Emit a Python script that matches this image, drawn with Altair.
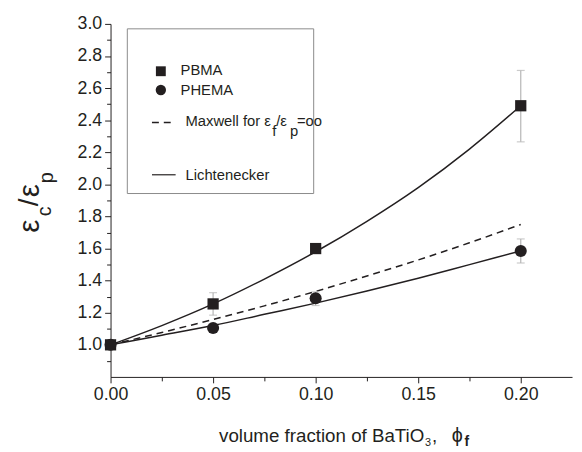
import altair as alt
import pandas as pd

# ---- data ----
phi_pts = [0.0, 0.05, 0.10, 0.20]
pbma = [1.0, 1.255, 1.60, 2.49]
pbma_lo = [1.0, 1.185, 1.58, 2.265]
pbma_hi = [1.0, 1.325, 1.63, 2.71]
phema = [1.0, 1.105, 1.29, 1.585]
phema_lo = [1.0, 1.105, 1.245, 1.51]
phema_hi = [1.0, 1.105, 1.33, 1.66]

phi_curve = [0.0, 0.025, 0.05, 0.075, 0.10, 0.125, 0.15, 0.175, 0.20]
lich_pbma = [1.0, 1.12, 1.255, 1.41, 1.58, 1.77, 1.98, 2.22, 2.49]
lich_phema = [1.0, 1.06, 1.12, 1.19, 1.26, 1.335, 1.415, 1.50, 1.585]
maxwell = [1.0, 1.077, 1.158, 1.243, 1.333, 1.429, 1.529, 1.636, 1.75]

x_ticks = [0.0, 0.025, 0.05, 0.075, 0.10, 0.125, 0.15, 0.175, 0.20]
y_ticks = [0.9, 1.0, 1.1, 1.2, 1.3, 1.4, 1.5, 1.6, 1.7, 1.8, 1.9, 2.0,
           2.1, 2.2, 2.3, 2.4, 2.5, 2.6, 2.7, 2.8, 2.9, 3.0]

INK = "#231f20"
FONT = "Liberation Sans"

pts = pd.DataFrame({
    "phi": phi_pts * 2,
    "v": pbma + phema,
    "lo": pbma_lo + phema_lo,
    "hi": pbma_hi + phema_hi,
    "s": ["PBMA"] * 4 + ["PHEMA"] * 4,
})
curves = pd.DataFrame({
    "phi": phi_curve * 3,
    "v": lich_pbma + lich_phema + maxwell,
    "c": ["L1"] * 9 + ["L2"] * 9 + ["M"] * 9,
})

xsc = alt.Scale(domain=[0, 0.225], nice=False, zero=False)
ysc = alt.Scale(domain=[0.8, 3.0], nice=False, zero=False)

xaxis = alt.Axis(
    values=x_ticks, title=None, grid=False, labelOverlap=False, labelFlush=False,
    labelExpr="round(datum.value*40) % 2 == 0 ? format(datum.value, '.2f') : ''",
    tickSize={"condition": {"test": "round(datum.value*40) % 2 == 0", "value": 6}, "value": 4},
    labelPadding=3,
)
yaxis = alt.Axis(
    values=y_ticks, title=None, grid=False, labelOverlap=False, labelFlush=False,
    labelExpr="round(datum.value*10) % 2 == 0 ? format(datum.value, '.1f') : ''",
    tickSize={"condition": {"test": "round(datum.value*10) % 2 == 0", "value": 6}, "value": 4},
    labelPadding=3,
)

X = alt.X("phi:Q", scale=xsc, axis=xaxis, title=None)
Y = alt.Y("v:Q", scale=ysc, axis=yaxis, title=None)

solid = alt.Chart(curves).transform_filter("datum.c != 'M'").mark_line(
    color=INK, strokeWidth=1.5, interpolate="monotone").encode(
    x=X, y=Y, detail="c:N")
dashed = alt.Chart(curves).transform_filter("datum.c == 'M'").mark_line(
    color=INK, strokeWidth=1.5, strokeDash=[7, 5], interpolate="monotone").encode(
    x=X, y=Y)

ebar = alt.Chart(pts).transform_filter("datum.phi > 0").mark_rule(
    color="#b5b5b5", strokeWidth=1.2).encode(
    x=X, y=alt.Y("lo:Q", scale=ysc, axis=yaxis, title=None), y2="hi:Q")
cap_lo = alt.Chart(pts).transform_filter("datum.phi > 0").mark_tick(
    color="#b5b5b5", orient="horizontal", size=8, thickness=1.2).encode(
    x=X, y=alt.Y("lo:Q", scale=ysc, axis=yaxis, title=None))
cap_hi = alt.Chart(pts).transform_filter("datum.phi > 0").mark_tick(
    color="#b5b5b5", orient="horizontal", size=8, thickness=1.2).encode(
    x=X, y=alt.Y("hi:Q", scale=ysc, axis=yaxis, title=None))

sq = alt.Chart(pts).transform_filter("datum.s == 'PBMA'").mark_point(
    shape="square", filled=True, color=INK, opacity=1, size=130).encode(
    x=X, y=Y)
ci = alt.Chart(pts).transform_filter("datum.s == 'PHEMA'").mark_point(
    shape="circle", filled=True, color=INK, opacity=1, size=150).encode(
    x=X, y=Y)

# ---- legend box (annotation) ----
one = pd.DataFrame({"a": [0]})
box = alt.Chart(one).mark_rect(fill="white", stroke="#8a8a8a", strokeWidth=1).encode(
    x=alt.value(17), x2=alt.value(206), y=alt.value(5), y2=alt.value(172))
leg_sq = alt.Chart(one).mark_point(shape="square", filled=True, color=INK, opacity=1, size=100).encode(
    x=alt.value(51), y=alt.value(48))
leg_ci = alt.Chart(one).mark_point(shape="circle", filled=True, color=INK, opacity=1, size=110).encode(
    x=alt.value(51), y=alt.value(67))
leg_dash = alt.Chart(one).mark_rule(color=INK, strokeWidth=1.5, strokeDash=[7, 5]).encode(
    x=alt.value(42), x2=alt.value(66), y=alt.value(100))
leg_solid = alt.Chart(one).mark_rule(color=INK, strokeWidth=1.2).encode(
    x=alt.value(42), x2=alt.value(66), y=alt.value(153))


def txt(s, x, y, size=15, align="left", angle=0, baseline="middle", weight="normal"):
    return alt.Chart(one).mark_text(
        text=s, font=FONT, fontSize=size, color=INK, align=align, baseline=baseline,
        angle=angle, fontWeight=weight).encode(x=alt.value(x), y=alt.value(y))


legend_texts = [
    txt("PBMA", 71, 47),
    txt("PHEMA", 71, 67),
    txt("Maxwell for ε", 76, 99),
    txt("f", 164, 109, 15),
    txt("/ε", 168, 99),
    txt("p", 182, 109, 15),
    txt("=oo", 189, 99),
    txt("Lichtenecker", 76, 153),
]

# y title pieces (rotated), positions relative to plot origin (abs y - 21)
ytitle = [
    txt("ε", -82, 226 - 21, 30, align="center", angle=270),
    txt("c", -66, 211 - 21, 20, align="center", angle=270),
    txt("/", -82, 202 - 21, 28, align="center", angle=270),
    txt("ε", -82, 190 - 21, 30, align="center", angle=270),
    txt("p", -64, 177 - 21, 20, align="center", angle=270),
]

xtitle = [
    txt("volume fraction of BaTiO", 110, 424, 19, baseline="alphabetic"),
    txt("3", 319, 428, 11, baseline="alphabetic"),
    txt(",", 326, 424, 19, baseline="alphabetic"),
    txt("ϕ", 346, 424, 20, baseline="alphabetic"),
    txt("f", 359, 428, 14, baseline="alphabetic", weight="bold"),
]

chart = alt.layer(
    solid, dashed, ebar, cap_lo, cap_hi, sq, ci,
    box, leg_sq, leg_ci, leg_dash, leg_solid,
    *legend_texts, *ytitle, *xtitle,
).properties(
    width=468, height=358,
    autosize=alt.AutoSizeParams(type="none"),
    padding={"left": 104, "top": 13, "right": 2, "bottom": 73},
).configure_view(stroke=None).configure_axis(
    domainColor=INK, tickColor=INK, labelColor=INK, labelFont=FONT,
    labelFontSize=18, domainWidth=1, tickWidth=1,
)

chart.save("out.html", embed_options={"renderer": "svg", "actions": False})
